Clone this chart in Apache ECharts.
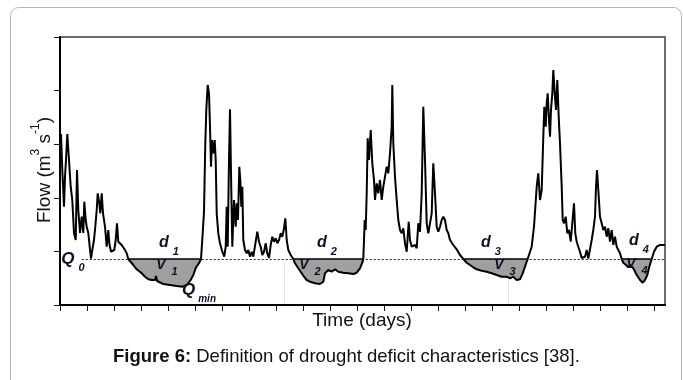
<!DOCTYPE html>
<html>
<head>
<meta charset="utf-8">
<script src="https://cdn.jsdelivr.net/npm/echarts@6/dist/echarts.min.js"></script>
<style>
  html, body { margin: 0; padding: 0; background: #fff; }
  #chart { width: 683px; height: 380px; }
</style>
</head>
<body>
<div id="chart"></div>
<script>
// Daily flow hydrograph (time in days, flow in plot units)
const days = [
  0,1,2.3,4,5,6,7.3,9,10.7,12.3,14,15.7,17,18.3,20,21.7,23.3,24.3,25.7,26.7,28.3,29.7,31,32.3,34,35.3,36.7,37.7,39.3,40.3,41.7,43,45,46.7,48.3,49.3,51,52.3,54.3,55.7,57,58.3,60,61.7,63.3,65,66.7,68.3,
  73.3,76.7,81.7,85,88.3,91.7,95,96,97,98.3,103.3,110,116.7,122.7,126.7,130.7,133.3,136,139.3,141,
  142.7,144,145.3,146.3,147.7,149,150,151,152,153.3,154.7,155.7,156.7,158.3,160,162.3,164.3,165.7,166.7,167.7,169,170,171,172.3,174,175.7,176.7,178,179.3,180.3,181.3,182.3,183.3,185,186.7,188.3,190,191.7,193.3,195.7,197.3,199,200.7,202.3,204,205.7,207.3,209,210.7,212.3,214,215.7,217.3,219,220.7,222.3,224,225.3,226.7,228.3,230.7,233.3,
  235,238.3,241.7,244,246.7,250,255,260,263.3,265,268.3,271.7,275,278.3,283.3,288.3,293.3,296.7,300,302.7,303.3,
  304,304.7,305.7,306.7,307.7,309,310.7,312.3,314,315,316.7,318.3,320,321.7,323.3,325,326.7,328.3,330,331.7,332.3,333.3,335,336.7,338.3,340,341.7,343.3,345,346.7,348.7,350,351.7,353.3,355,356.7,358.3,360,361.7,363.3,365,366.7,368.3,370,371.7,373.3,375,376.7,378.3,380,381.7,383.3,385,386.7,388.3,390,391.7,393.3,396.7,400,403.3,
  406.7,410,413.3,416.7,421.7,426.7,431.7,436.7,441.7,446.7,450,453.3,456.7,460,462.7,465,467.3,468.3,
  471.7,474,476.7,478.3,480,481.7,483.3,484.3,485.7,486.7,487.7,489,490,491,492.3,493.3,494.7,496,497.3,498.7,500,501.7,502.7,504,505.7,507.3,509,510.7,512.3,514,515.3,516.7,518.3,520,521.7,523.3,525,526.7,528.3,530,531.7,533.3,535,536,537,538.3,540,541.7,543.3,545,546.7,548.3,550,551.7,553.3,555,556.7,558.3,560,561.7,
  563.3,566,568.3,570,573.3,576.7,580,582.7,585,587.3,589.3,591.7,
  594,596.7,600,605
];
const flow = [
  145,171,135,98.3,128.3,145,171,145,118.3,105,72,65,135,95,72,88.3,72,103.3,85,78.3,72,58.3,46.5,55,65,78.3,95,111.7,101.7,91.7,111.7,91.7,78.3,58.3,75,61.7,53.3,53.3,55,65,81.7,63.3,62.3,60,58.3,55,51.7,46,
  40,35.7,31.7,28.3,25.7,25,25,29,24,22.3,21,20,19,18.3,20,25,30,37.7,42.3,46,
  71.7,93.3,161.7,195,220,211.7,178.3,138.3,165,151.7,165,145,91.7,71.7,61.7,53.3,48.3,58.3,98.3,58.3,145,195.7,131.7,58.3,105,78.3,101.7,85,138.3,125,98.3,118.3,65,55,51.7,55,48.3,53.3,48.3,63.3,73.3,63.3,58.3,50,53.3,61.7,51.7,47,60,68.3,63.3,66.7,61.7,65,71.7,68.3,76.7,86.7,65,55,50,46,
  41.7,36.7,31.7,28.3,25,23.3,21.7,21,23.3,31.7,35,33.3,35.7,33.3,32.3,31.7,31,32.3,36.7,43.3,46,
  65,85,75,111.7,166.7,145,175,141.7,125,105,121.7,111.7,125,105,118.3,128.3,138.3,131.7,151.7,178.3,220,161.7,128.3,105,85,75,71.7,76.7,61.7,53.3,83.3,65,58.3,56.7,60,56.7,81.7,73.3,111.7,198.3,145,81.7,71.7,81.7,91.7,141.7,111.7,78.3,73.3,78.3,85,88.3,85,75,71.7,65,63.3,60,55.7,50,46,
  42.3,40,37.7,35.7,34.3,33.3,31.7,30,28.3,28.3,26.7,28.3,25,25.7,31.7,38.3,45,46,
  58.3,78.3,118.3,131.7,105,115,168.3,198.3,178.3,201.7,211.7,185,168.3,195,211.7,235,211.7,195,225,188.3,161.7,118.3,85,81.7,88.3,71.7,75,63.3,81.7,101.7,71.7,63.3,58.3,53.3,47,46.5,48.3,55,46.5,46.5,65,75,88.3,118.3,135,115,88.3,81.7,75,78.3,68.3,76.7,63.3,75,60,68.3,58.3,56.7,51.7,46,
  42.3,40,37.7,40,36.7,30,25,22.3,25,30,38.3,46,
  53.3,58.3,60,60
];

// Threshold level Q0 and the drought events (start day, end day) below it
const threshold = 46;
const thresholdStartDay = 21.7;
const eventStart = [68.3, 233.3, 403.3, 561.7];
const eventEnd   = [141, 303.3, 468.3, 591.7];
const eventNames = ['1', '2', '3', '4'];

// Annotation anchor points (label centres, in data units)
const durationLabelDay  = [109, 267, 431, 579];
const durationLabelFlow = [59, 59, 59, 61];
const volumeLabelDay    = [107, 250, 445, 577];
const volumeLabelFlow   = [37, 37, 37, 38];
const q0LabelPos   = [13, 43];
const qminLabelPos = [139, 12];

// Axis extents
const dayMax = 605, dayTick = 27;
const flowMax = 268, flowTick = 53.6;

const FONT = '"Liberation Sans", Arial, sans-serif';
const INK = '#0b1026';

const chart = echarts.init(document.getElementById('chart'), null, { renderer: 'canvas' });

const mainData = days.map((d, i) => [d, flow[i]]);

const series = [];

// deficit areas (between the hydrograph and Q0)
eventStart.forEach((s, k) => {
  const e = eventEnd[k];
  const pts = [];
  days.forEach((d, i) => { if (d >= s && d <= e) pts.push([d, flow[i]]); });
  series.push({
    type: 'line', data: pts, symbol: 'none', silent: true, z: 2,
    lineStyle: { width: 0, opacity: 0 },
    areaStyle: { color: '#a0a0a0', opacity: 1, origin: threshold }
  });
  series.push({
    type: 'line', data: [[s, threshold], [e, threshold]], symbol: 'none', silent: true, z: 4,
    lineStyle: { color: '#000', width: 1.6 }
  });
});

// hydrograph
series.push({
  type: 'line', data: mainData, symbol: 'none', silent: true, z: 3,
  lineStyle: { color: '#000', width: 2 },
  markLine: {
    silent: true, symbol: ['none', 'none'], label: { show: false },
    lineStyle: { type: [2, 2], color: '#222', width: 1 },
    data: [[{ coord: [thresholdStartDay, threshold] }, { coord: [dayMax, threshold] }]]
  }
});

// annotations
const plain = { color: INK, opacity: 1, textBorderWidth: 0, textBorderColor: 'transparent', textShadowBlur: 0 };
const richStyles = {
  big:  Object.assign({ fontFamily: FONT, fontSize: 17, fontWeight: 'bold', fontStyle: 'italic', verticalAlign: 'top', lineHeight: 22 }, plain),
  dd:   Object.assign({ fontFamily: FONT, fontSize: 16, fontWeight: 'bold', fontStyle: 'italic', verticalAlign: 'top', lineHeight: 22 }, plain),
  vv:   Object.assign({ fontFamily: FONT, fontSize: 14, fontWeight: 'bold', fontStyle: 'italic', verticalAlign: 'top', lineHeight: 19 }, plain),
  sub:  Object.assign({ fontFamily: FONT, fontSize: 11, fontWeight: 'bold', fontStyle: 'italic', verticalAlign: 'bottom', lineHeight: 22, padding: [0, 0, 0, 4] }, plain),
  vsub: Object.assign({ fontFamily: FONT, fontSize: 11, fontWeight: 'bold', fontStyle: 'italic', verticalAlign: 'bottom', lineHeight: 19, padding: [0, 0, 0, 6] }, plain),
  min:  Object.assign({ fontFamily: FONT, fontSize: 10, fontWeight: 'bold', fontStyle: 'italic', verticalAlign: 'bottom', lineHeight: 22, padding: [0, 0, 0, 3] }, plain)
};
const annData = [];
eventNames.forEach((n, k) => {
  annData.push({ value: [durationLabelDay[k], durationLabelFlow[k]], label: { formatter: '{dd|d}{sub|' + n + '}' } });
  annData.push({ value: [volumeLabelDay[k], volumeLabelFlow[k]], label: { formatter: '{vv|V}{vsub|' + n + '}' } });
});
annData.push({ value: q0LabelPos, label: { formatter: '{big|Q}{sub|0}' } });
annData.push({ value: qminLabelPos, label: { formatter: '{big|Q}{min|min}' } });
series.push({
  type: 'scatter', data: annData, symbolSize: 0, silent: true, z: 6,
  itemStyle: { color: INK, opacity: 1 },
  label: Object.assign({ show: true, position: 'inside', rich: richStyles }, plain)
});

const xTicks = [];
for (let v = 0; v <= dayMax; v += dayTick) xTicks.push(v);

chart.setOption({
  animation: false,
  backgroundColor: '#fff',
  grid: { left: 60, top: 37, width: 605, height: 268, show: true, borderColor: '#3c3c3c', borderWidth: 1.5, backgroundColor: 'transparent' },
  xAxis: {
    type: 'value', min: 0, max: dayMax, interval: dayTick,
    axisLine: { show: true, onZero: false, lineStyle: { color: '#000', width: 2 } },
    axisTick: { show: true, length: 6, customValues: xTicks, lineStyle: { color: '#111', width: 1 } },
    axisLabel: { show: false }, splitLine: { show: false }
  },
  yAxis: {
    type: 'value', min: 0, max: flowMax, interval: flowTick,
    axisLine: { show: true, onZero: false, lineStyle: { color: '#000', width: 2 } },
    axisTick: { show: true, length: 6, lineStyle: { color: '#111', width: 1 } },
    axisLabel: { show: false }, splitLine: { show: false }
  },
  series: series,
  graphic: [
    { type: 'rect', silent: true, z: -1, shape: { x: 10.5, y: 7.5, width: 671, height: 420, r: 8 },
      style: { fill: 'none', stroke: '#b4b4b4', lineWidth: 1 } },
    { type: 'line', silent: true, shape: { x1: 284.5, y1: 263, x2: 284.5, y2: 304 }, style: { stroke: '#e2e2e2', lineWidth: 1 } },
    { type: 'line', silent: true, shape: { x1: 508.5, y1: 280, x2: 508.5, y2: 304 }, style: { stroke: '#e2e2e2', lineWidth: 1 } },
    { type: 'text', silent: true, x: 362, y: 321,
      style: { text: 'Time (days)', font: '19px ' + FONT, fill: '#111', align: 'center', verticalAlign: 'middle' } },
    { type: 'text', silent: true, x: 42, y: 170, rotation: Math.PI / 2,
      style: {
        text: '{n|Flow (m}{p|3}{n| s}{p|-1}{n|)}', align: 'center', verticalAlign: 'middle',
        rich: {
          n: { fontFamily: FONT, fontSize: 19, fill: '#111', color: '#111', verticalAlign: 'bottom', lineHeight: 24 },
          p: { fontFamily: FONT, fontSize: 12, fill: '#111', color: '#111', verticalAlign: 'top', lineHeight: 24 }
        }
      } },
    { type: 'text', silent: true, x: 113, y: 357,
      style: {
        text: '{b|Figure 6:}{r| Definition of drought deficit characteristics [38].}', align: 'left', verticalAlign: 'middle',
        rich: {
          b: { fontFamily: FONT, fontSize: 18.5, fontWeight: 'bold', fill: '#111', color: '#111' },
          r: { fontFamily: FONT, fontSize: 18.5, fill: '#111', color: '#111' }
        }
      } }
  ]
});
</script>
</body>
</html>
